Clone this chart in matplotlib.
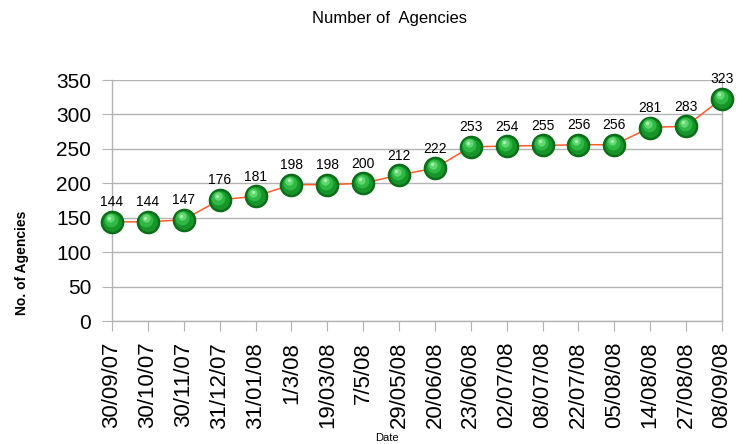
import matplotlib
matplotlib.use("Agg")
import matplotlib.pyplot as plt
from matplotlib.transforms import offset_copy

plt.rcParams['font.family'] = ['Liberation Sans', 'DejaVu Sans']

# data
dates = ['30/09/07', '30/10/07', '30/11/07', '31/12/07', '31/01/08', '1/3/08',
         '19/03/08', '7/5/08', '29/05/08', '20/06/08', '23/06/08', '02/07/08',
         '08/07/08', '22/07/08', '05/08/08', '14/08/08', '27/08/08', '08/09/08']
agencies = [144, 144, 147, 176, 181, 198, 198, 200, 212, 222, 253, 254,
            255, 256, 256, 281, 283, 323]

grey = '#b3b3b3'

fig = plt.figure(figsize=(7.39, 4.44), dpi=100)
ax = fig.add_axes([112 / 739, 1 - 321 / 444, 610 / 739, 241 / 444])

x = list(range(len(dates)))

# line
ax.plot(x, agencies, color='#ff5a2a', lw=1.1, zorder=3, clip_on=False)

# shaded green spheres, built from layered circles
ax.plot(x, agencies, 'o', ms=16, mfc='#0a6e18', mec='#0a6e18', zorder=4, clip_on=False)
ax.plot(x, agencies, 'o', ms=13.5, mfc='#17952a', mec='none', zorder=5, clip_on=False)
hl = offset_copy(ax.transData, fig=fig, x=-1.0, y=1.5, units='points')
ax.plot(x, agencies, 'o', ms=10, mfc='#2fb843', mec='none', zorder=6, clip_on=False,
        transform=hl)
hl2 = offset_copy(ax.transData, fig=fig, x=-1.5, y=2.5, units='points')
ax.plot(x, agencies, 'o', ms=6, mfc='#5fd86f', mec='none', zorder=7, clip_on=False,
        transform=hl2)
hl3 = offset_copy(ax.transData, fig=fig, x=-2.0, y=3.0, units='points')
ax.plot(x, agencies, 'o', ms=2.5, mfc='#a8f0b0', mec='none', zorder=8, clip_on=False,
        transform=hl3)

# value labels
for xi, v in zip(x, agencies):
    ax.annotate(str(v), (xi, v), xytext=(0, 9), textcoords='offset points',
                ha='center', va='bottom', fontsize=10, zorder=9)

ax.set_xlim(0, len(dates) - 1)
ax.set_ylim(0, 350)
ax.set_yticks(range(0, 351, 50))
ax.set_xticks(x)
ax.set_xticklabels(dates, rotation=90, fontsize=16)
ax.tick_params(axis='y', labelsize=15, length=7, color=grey, pad=8)
ax.tick_params(axis='x', length=7, color=grey, pad=8)

ax.yaxis.grid(True, color=grey, lw=1)
ax.set_axisbelow(True)
for s in ['left', 'right', 'bottom']:
    ax.spines[s].set_color(grey)
    ax.spines[s].set_linewidth(1)
ax.spines['top'].set_visible(False)

fig.text(389 / 739, 1 - 19 / 444, 'Number of  Agencies', ha='center', va='center',
         fontsize=12)
fig.text(22 / 739, 1 - 263 / 444, 'No. of Agencies', rotation=90, ha='center',
         va='center', fontsize=10, fontweight='bold')
fig.text(387 / 739, 1 - 438 / 444, 'Date', ha='center', va='center', fontsize=8)

fig.savefig('out.png', dpi=100)
